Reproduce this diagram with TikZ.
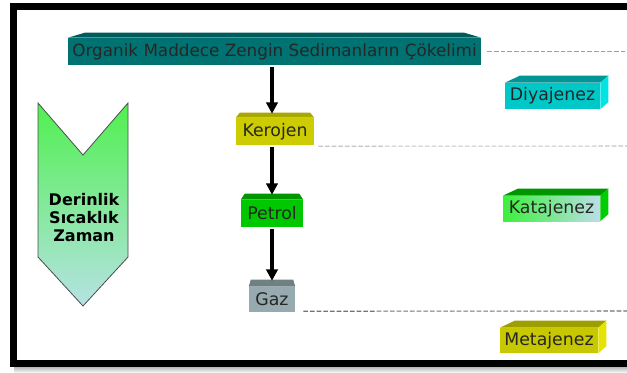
\documentclass[tikz,border=0pt]{standalone}
\usepackage{fontspec}
\setmainfont{DejaVu Sans}
\usetikzlibrary{calc, arrows.meta}
\definecolor{ustOn}{RGB}{0,114,114}
\definecolor{ustTop}{RGB}{0,92,92}
\definecolor{kerOn}{RGB}{204,204,0}
\definecolor{kerTop}{RGB}{168,168,0}
\definecolor{petOn}{RGB}{0,200,0}
\definecolor{petTop}{RGB}{0,150,0}
\definecolor{gazOn}{RGB}{150,170,175}
\definecolor{gazTop}{RGB}{110,128,130}
\definecolor{diyOn}{RGB}{0,200,200}
\definecolor{diyTop}{RGB}{0,150,150}
\definecolor{diySide}{RGB}{0,228,228}
\definecolor{katSol}{RGB}{60,240,60}
\definecolor{katSag}{RGB}{188,222,232}
\definecolor{katTop}{RGB}{0,150,0}
\definecolor{katSide}{RGB}{0,205,0}
\definecolor{metOn}{RGB}{200,200,0}
\definecolor{metTop}{RGB}{158,158,0}
\definecolor{metSide}{RGB}{228,228,0}
\definecolor{okUst}{RGB}{80,240,80}
\definecolor{okAlt}{RGB}{182,226,228}
\tikzset{
    kutu/.style={inner sep=0pt, text=black!85, font=\fontsize{13}{15}\selectfont},
    ok/.style={-{Triangle[length=8.5pt, width=8.5pt]}, line width=2.6pt, shorten <=1.5pt},
    kesik/.style={dash pattern=on 3.5pt off 1.5pt, line width=0.8pt},
}
% bevelled top face: node, dx, dy, colour
\newcommand{\egim}[4]{%
    \fill[#4] (#1.north west) -- ++(#2,-#3) -- ($(#1.north east)+(-#2,-#3)$) -- (#1.north east) -- cycle;}
% cube faces: node, top colour, side colour
\newcommand{\kup}[3]{%
    \fill[#2] (#1.north west) -- ++(15,-7) -- ($(#1.north east)+(8,-7)$) -- (#1.north east) -- cycle;
    \fill[#3] (#1.north east) -- ++(8,-7) -- ($(#1.south east)+(8,-7)$) -- (#1.south east) -- cycle;}

\begin{document}
\begin{tikzpicture}[x=0.75pt, y=-0.75pt]
    \fill[white] (0,0) rectangle (627,372);
    \useasboundingbox (0,0) rectangle (627,372);

    % frame
    \fill[top color=gray!55, bottom color=gray!10] (14,367) rectangle (627,372);
    \draw[line width=5.25pt, miter limit=10] (627,6.5) -- (13.5,6.5) -- (13.5,363.5) -- (627,363.5);

    % main column
    \node[kutu, fill=ustOn, minimum width=309.75pt, minimum height=20.25pt,
          font=\fontsize{12.6}{15}\selectfont] (ust) at (274.5,51.5)
          {Organik Maddece Zengin Sedimanların Çökelimi};
    \node[kutu, fill=kerOn, minimum width=58.5pt, minimum height=20.25pt] (kerojen) at (275,131.5) {Kerojen};
    \node[kutu, fill=petOn, minimum width=46.5pt, minimum height=20.25pt] (petrol) at (272,213.5) {Petrol};
    \node[kutu, fill=gazOn, minimum width=34.5pt, minimum height=18.75pt] (gaz) at (272,299.5) {Gaz};
    \egim{ust}{17}{5}{ustTop}
    \egim{kerojen}{4}{5}{kerTop}
    \egim{petrol}{4}{6}{petTop}
    \egim{gaz}{2}{7}{gazTop}

    % stages
    \node[kutu, fill=diyOn, minimum width=71.25pt, minimum height=19.5pt] (diyajenez) at (552.5,96) {Diyajenez};
    \node[kutu, left color=katSol, right color=katSag, minimum width=72.75pt, minimum height=18.75pt] (katajenez) at (551.5,208.5) {Katajenez};
    \node[kutu, fill=metOn, minimum width=73.5pt, minimum height=18.75pt] (metajenez) at (549,340.5) {Metajenez};
    \kup{diyajenez}{diyTop}{diySide}
    \kup{katajenez}{katTop}{katSide}
    \kup{metajenez}{metTop}{metSide}

    % left arrow
    \shade[top color=okUst, bottom color=okAlt, draw=gray!60!black, line width=0.6pt]
        (38,103) -- (83,155) -- (128,103) -- (128,257) -- (83,306) -- (38,257) -- cycle;
    \node[font=\bfseries\fontsize{12}{13.5}\selectfont, align=center] (etken) at (84,218)
        {Derinlik\\Sıcaklık\\Zaman};

    % arrows
    \draw[ok] (ust.south -| petrol.north) -- ($(kerojen.north -| petrol.north)+(0,-4)$);
    \draw[ok] (kerojen.south -| petrol.north) -- ($(petrol.north)+(0,-5)$);
    \draw[ok] (petrol.south) -- ($(gaz.north)+(0,-6)$);

    % boundaries
    \coordinate (sag1) at (627,51.5);
    \coordinate (sag2) at (627,146);
    \coordinate (sag3) at (627,311);
    \draw[kesik, gray!75] ($(ust.east)+(6,0)$) -- (sag1);
    \draw[kesik, gray!45] ($(kerojen.south east)+(4,1)$) -- (sag2);
    \draw[kesik, gray!90!black] ($(gaz.south east)+(8,-1)$) -- (sag3);
\end{tikzpicture}
\end{document}
